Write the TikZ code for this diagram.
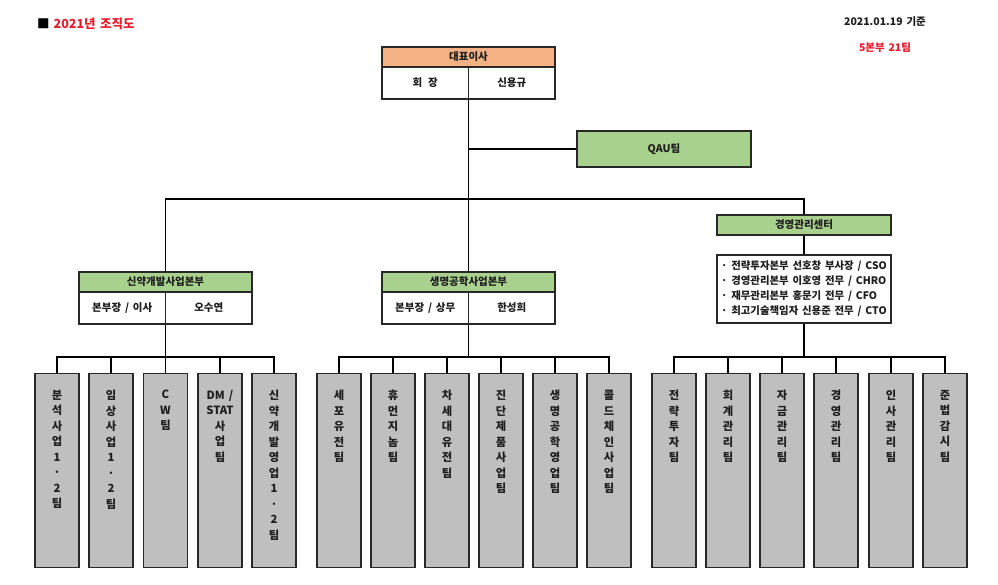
\documentclass[tikz,border=0pt]{standalone}
\usepackage{fontspec}
\newfontfamily\kr{Noto Sans CJK KR}
\newfontfamily\krw{Noto Sans CJK KR}[WordSpace=1.6]
\definecolor{hdrorange}{RGB}{244,177,131}
\definecolor{hdrgreen}{RGB}{169,209,142}
\definecolor{teamgray}{RGB}{191,191,191}
\definecolor{titlered}{RGB}{232,28,44}
\definecolor{edge}{RGB}{40,40,40}
\definecolor{txt}{RGB}{30,30,30}
\tikzset{
  boxline/.style={draw=edge, line width=1.3pt},
  hdr/.style={boxline, minimum width=173, minimum height=20, inner sep=0,
    font=\kr\bfseries\fontsize{10.5}{12}\selectfont, text=txt},
  cell/.style={boxline, fill=white, minimum width=86.5, minimum height=32, inner sep=0,
    font=\kr\bfseries\fontsize{10.5}{12}\selectfont, text=txt},
  team/.style={boxline, fill=teamgray, minimum width=44, minimum height=194, inner sep=0, anchor=north},
  teamtxt/.style={anchor=north, align=center, inner sep=0, text=txt,
    font=\kr\bfseries\fontsize{11.3}{15.5}\selectfont},
  conn/.style={draw=black, line width=1.1pt},
}
\newcommand{\orgbox}[7]{%
  \node[hdr, fill=#4] (#1h) at (#2,#3) {#5};
  \node[cell] (#1l) at (#2-43.25,#3+26) {#6};
  \node[cell] (#1r) at (#2+43.25,#3+26) {#7};
}
\newcommand{\teambox}[3]{%
  \node[team] (#1) at (#2,373) {};
  \node[teamtxt] at ([yshift=-17]#1.north) {#3};
}
\begin{document}
\begin{tikzpicture}[x=1pt,y=-1pt]
\useasboundingbox[fill=white] (0,0) rectangle (998,585);

% titles
\node[anchor=west, inner sep=0, font=\kr\bfseries\fontsize{12.5}{14}\selectfont] (title) at (37,24)
  {■\hspace{4pt}\textcolor{titlered}{2021년 조직도}};
\node[inner sep=0, font=\kr\bfseries\fontsize{10.5}{12}\selectfont, text=txt] (date) at (885,22) {2021.01.19 기준};
\node[inner sep=0, font=\kr\bfseries\fontsize{10.5}{12}\selectfont, text=titlered] (count) at (885,48) {5본부 21팀};

% CEO
\orgbox{ceo}{468.5}{57}{hdrorange}{대표이사}{회\hspace{0.55em}장}{신용규}
% QAU
\node[boxline, fill=hdrgreen, minimum width=174, minimum height=36, inner sep=0,
  font=\kr\bfseries\fontsize{10.5}{12}\selectfont, text=txt] (qau) at (664,149) {QAU팀};
% divisions
\orgbox{da}{165.5}{282}{hdrgreen}{신약개발사업본부}{본부장 / 이사}{오수연}
\orgbox{db}{468.5}{282}{hdrgreen}{생명공학사업본부}{본부장 / 상무}{한성희}
\node[hdr, fill=hdrgreen, minimum width=174] (cen) at (804,225) {경영관리센터};
\node[boxline, fill=white, minimum width=174, minimum height=68, inner sep=0, align=left,
  font=\krw\bfseries\fontsize{10.4}{15}\selectfont, text=txt] (exec) at (804,289)
  {· 전략투자본부 선호창 부사장 / CSO\\
   · 경영관리본부 이호영 전무 / CHRO\\
   · 재무관리본부 홍문기 전무 / CFO\\
   · 최고기술책임자 신용준 전무 / CTO};

% teams
\teambox{a1}{57}{분\\석\\사\\업\\1\\·\\2\\팀}
\teambox{a2}{111}{임\\상\\사\\업\\1\\·\\2\\팀}
\teambox{a3}{165.5}{C\\W\\팀}
\teambox{a4}{220}{DM /\\STAT\\사\\업\\팀}
\teambox{a5}{274}{신\\약\\개\\발\\영\\업\\1\\·\\2\\팀}
\teambox{b1}{339}{세\\포\\유\\전\\팀}
\teambox{b2}{393}{휴\\먼\\지\\놈\\팀}
\teambox{b3}{447}{차\\세\\대\\유\\전\\팀}
\teambox{b4}{501}{진\\단\\제\\품\\사\\업\\팀}
\teambox{b5}{555}{생\\명\\공\\학\\영\\업\\팀}
\teambox{b6}{609}{콜\\드\\체\\인\\사\\업\\팀}
\teambox{c1}{674}{전\\략\\투\\자\\팀}
\teambox{c2}{728}{회\\계\\관\\리\\팀}
\teambox{c3}{782}{자\\금\\관\\리\\팀}
\teambox{c4}{836}{경\\영\\관\\리\\팀}
\teambox{c5}{891}{인\\사\\관\\리\\팀}
\teambox{c6}{945}{준\\법\\감\\시\\팀}

% connectors
\coordinate (bus) at (468.5,199);
\coordinate (busA) at (165.5,357);
\coordinate (busB) at (468.5,357);
\coordinate (busC) at (804,357);
\draw[conn] (ceoh.center |- ceol.south) -- (bus);
\draw[conn] (qau.west) -- (qau.west -| bus);
\draw[conn] (dah.north) |- (bus) -| (cen.north);
\draw[conn] (bus) -- (dbh.north);
\draw[conn] (cen.south) -- (exec.north);

\draw[conn] (dah.center |- dal.south) -- (busA);
\draw[conn] (a1.north) |- (busA) -| (a5.north);
\foreach \t in {a2,a3,a4} \draw[conn] (\t.north) -- (\t.north |- busA);

\draw[conn] (dbh.center |- dbl.south) -- (busB);
\draw[conn] (b1.north) |- (busB) -| (b6.north);
\foreach \t in {b2,b3,b4,b5} \draw[conn] (\t.north) -- (\t.north |- busB);

\draw[conn] (exec.south) -- (busC);
\draw[conn] (c1.north) |- (busC) -| (c6.north);
\foreach \t in {c2,c3,c4,c5} \draw[conn] (\t.north) -- (\t.north |- busC);
\end{tikzpicture}
\end{document}
